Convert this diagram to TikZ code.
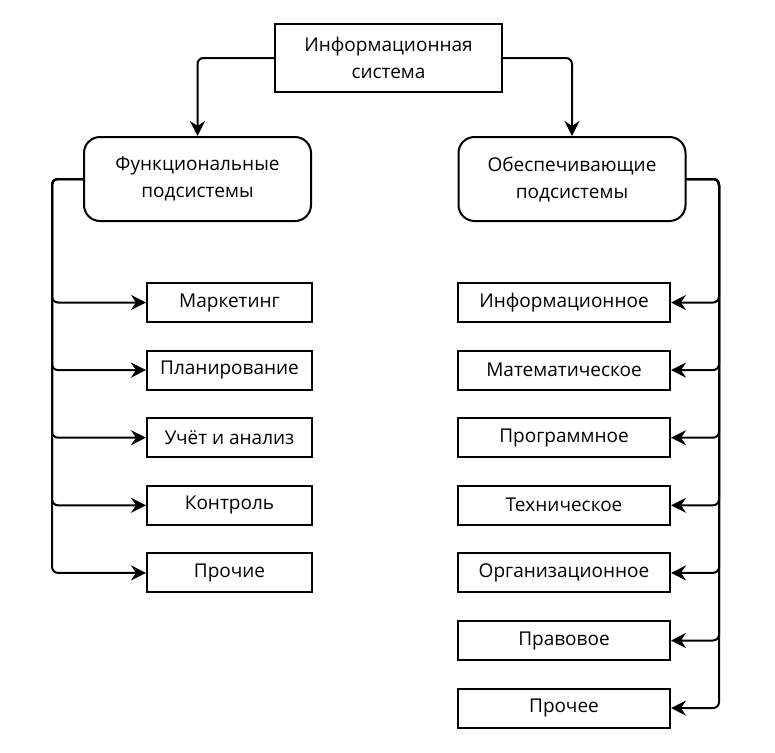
\documentclass[tikz,border=0pt]{standalone}
\usepackage{fontspec}
\setmainfont{Open Sans}
\usetikzlibrary{arrows.meta}

\tikzset{
  box/.style={draw, line width=2pt, align=center, inner sep=0pt,
    font=\fontsize{19}{27}\selectfont},
  subsys/.style={box, rounded corners=16pt, minimum width=227pt, minimum height=84pt},
  leafL/.style={box, minimum width=165pt, minimum height=39pt},
  leafR/.style={box, minimum width=212pt, minimum height=39pt},
  arr/.style={line width=2pt, rounded corners=6pt,
    -{Stealth[length=15pt,width=15pt,inset=5pt]}}
}

\begin{document}
\begin{tikzpicture}[x=1pt,y=-1pt]
\useasboundingbox (0,0) rectangle (775,752);

% top
\node[box, minimum width=227pt, minimum height=68pt] (is) at (388.5,58)
  {Информационная\\система};

\node[subsys] (func) at (197.5,179) {Функциональные\\подсистемы};
\node[subsys] (supp) at (572,179) {Обеспечивающие\\подсистемы};

% functional
\node[leafL] (f1) at (229.5,302.5) {Маркетинг};
\node[leafL] (f2) at (229.5,370.1) {Планирование};
\node[leafL] (f3) at (229.5,437.7) {Учёт и анализ};
\node[leafL] (f4) at (229.5,505.3) {Контроль};
\node[leafL] (f5) at (229.5,572.9) {Прочие};

% supporting
\node[leafR] (s1) at (564,302.5) {Информационное};
\node[leafR] (s2) at (564,370.1) {Математическое};
\node[leafR] (s3) at (564,437.7) {Программное};
\node[leafR] (s4) at (564,505.3) {Техническое};
\node[leafR] (s5) at (564,572.9) {Организационное};
\node[leafR] (s6) at (564,640.5) {Правовое};
\node[leafR] (s7) at (564,708.1) {Прочее};

% connectors
\draw[arr] (is.west) -| (func.north);
\draw[arr] (is.east) -| (supp.north);

\foreach \n in {f1,f2,f3,f4,f5}
  \draw[arr] (func.west) -| ([xshift=-94pt]\n.west) -- (\n.west);
\foreach \n in {s1,s2,s3,s4,s5,s6,s7}
  \draw[arr] (supp.east) -| ([xshift=48pt]\n.east) -- (\n.east);
\end{tikzpicture}
\end{document}
